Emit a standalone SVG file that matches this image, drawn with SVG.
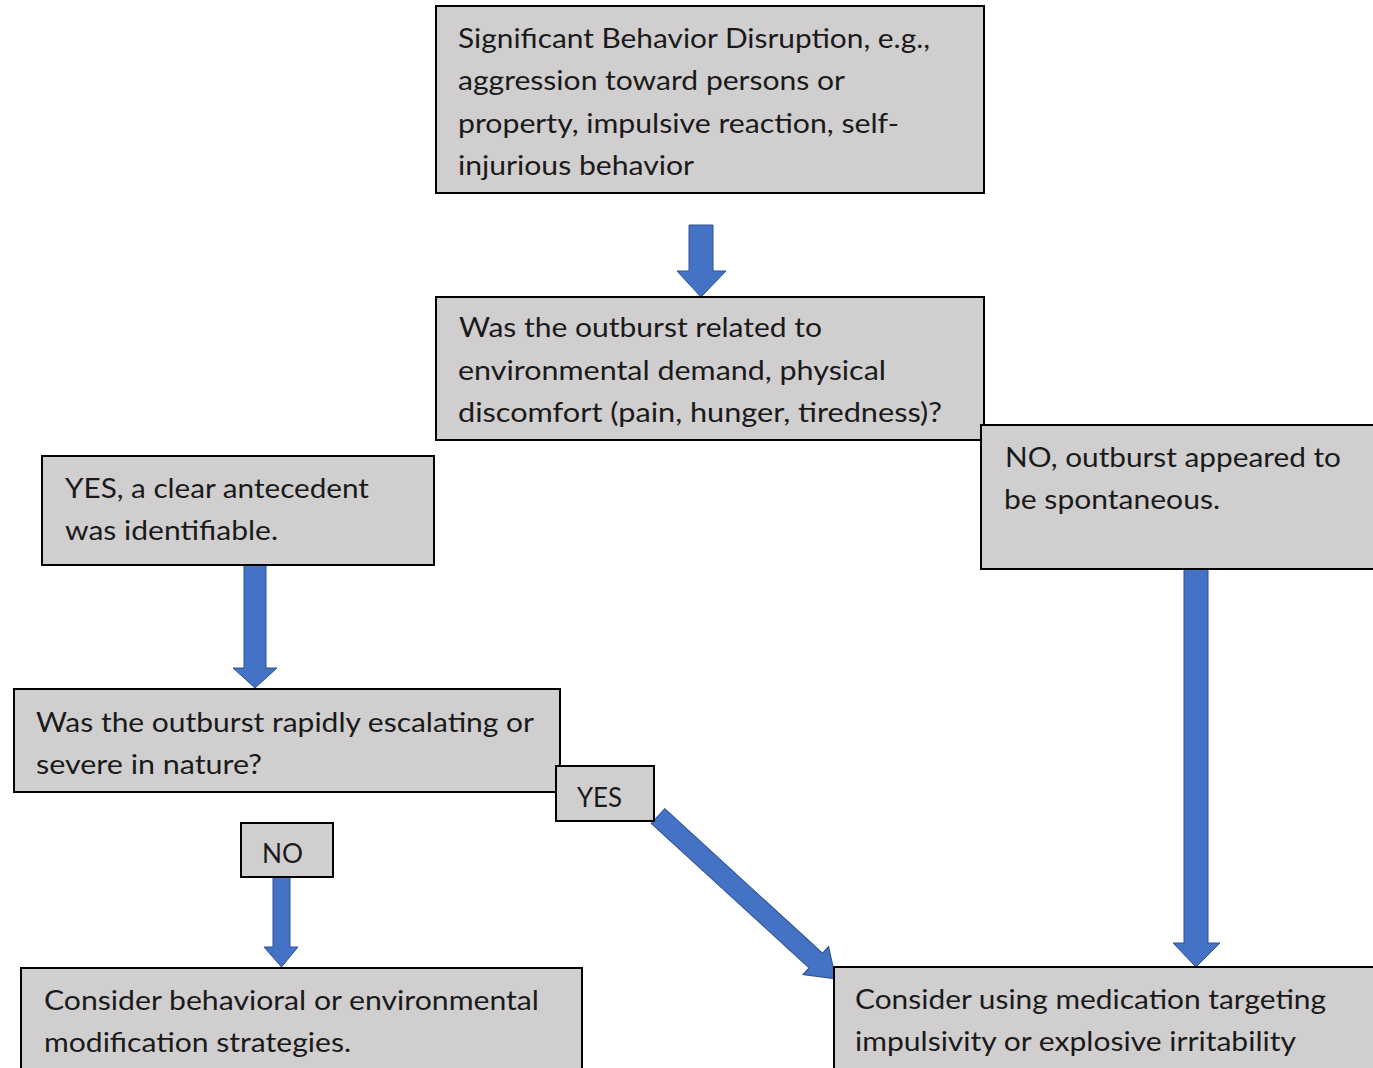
<svg xmlns="http://www.w3.org/2000/svg" width="1373" height="1068" viewBox="0 0 1373 1068">
<style>
.box{fill:#d0cece;stroke:#000;stroke-width:2}
.t{font-family:Lato,"Open Sans","Liberation Sans",sans-serif;font-size:27px;fill:#1a1a1a}
.arr{fill:#4472c4;stroke:#2f528f;stroke-width:1}
</style>
<rect width="1373" height="1068" fill="#fff"/>
<g id="connectors">
<polygon class="arr" points="689,225 713,225 713,271 726,271 701,297 677,271 689,271"/>
<polygon class="arr" points="244,565 266,565 266,668 277,668 255,688 233,668 244,668"/>
<polygon class="arr" points="1184,569 1208,569 1208,943 1220,943 1196,967 1173,943 1184,943"/>
<polygon class="arr" points="273,877 290,877 290,947 298,947 281.5,967 264,947 273,947"/>
<polygon class="arr" transform="translate(658,816) rotate(42.5)" points="0,-10 214,-10 214,-19 241,0 214,19 214,10 0,10"/>
</g>
<g id="n1">
<rect class="box" x="436" y="6" width="548" height="187"/>
<text class="t" x="458" y="48" textLength="472" lengthAdjust="spacingAndGlyphs">Significant Behavior Disruption, e.g.,</text>
<text class="t" x="458" y="90" textLength="387" lengthAdjust="spacingAndGlyphs">aggression toward persons or</text>
<text class="t" x="458" y="133" textLength="441" lengthAdjust="spacingAndGlyphs">property, impulsive reaction, self-</text>
<text class="t" x="458" y="175" textLength="236" lengthAdjust="spacingAndGlyphs">injurious behavior</text>
</g>
<g id="n2">
<rect class="box" x="436" y="297" width="548" height="143"/>
<text class="t" x="459" y="337" textLength="363" lengthAdjust="spacingAndGlyphs">Was the outburst related to</text>
<text class="t" x="458" y="380" textLength="428" lengthAdjust="spacingAndGlyphs">environmental demand, physical</text>
<text class="t" x="458" y="422" textLength="484" lengthAdjust="spacingAndGlyphs">discomfort (pain, hunger, tiredness)?</text>
</g>
<g id="n3">
<rect class="box" x="981" y="425" width="400" height="144"/>
<text class="t" x="1005" y="467" textLength="336" lengthAdjust="spacingAndGlyphs">NO, outburst appeared to</text>
<text class="t" x="1004" y="509" textLength="216" lengthAdjust="spacingAndGlyphs">be spontaneous.</text>
</g>
<g id="n4">
<rect class="box" x="42" y="456" width="392" height="109"/>
<text class="t" x="65" y="498" textLength="304" lengthAdjust="spacingAndGlyphs">YES, a clear antecedent</text>
<text class="t" x="65" y="540" textLength="213" lengthAdjust="spacingAndGlyphs">was identifiable.</text>
</g>
<g id="n5">
<rect class="box" x="14" y="689" width="546" height="103"/>
<text class="t" x="36" y="732" textLength="498" lengthAdjust="spacingAndGlyphs">Was the outburst rapidly escalating or</text>
<text class="t" x="36" y="774" textLength="226" lengthAdjust="spacingAndGlyphs">severe in nature?</text>
</g>
<g id="yes">
<rect class="box" x="556" y="766" width="98" height="55"/>
<text class="t" x="577" y="807" textLength="45" lengthAdjust="spacingAndGlyphs">YES</text>
</g>
<g id="no">
<rect class="box" x="241" y="823" width="92" height="54"/>
<text class="t" x="262" y="863" textLength="41" lengthAdjust="spacingAndGlyphs">NO</text>
</g>
<g id="n6">
<rect class="box" x="21" y="968" width="561" height="110"/>
<text class="t" x="44" y="1010" textLength="495" lengthAdjust="spacingAndGlyphs">Consider behavioral or environmental</text>
<text class="t" x="44" y="1052" textLength="307" lengthAdjust="spacingAndGlyphs">modification strategies.</text>
</g>
<g id="n7">
<rect class="box" x="834" y="967" width="550" height="110"/>
<text class="t" x="855" y="1009" textLength="471" lengthAdjust="spacingAndGlyphs">Consider using medication targeting</text>
<text class="t" x="855" y="1051" textLength="441" lengthAdjust="spacingAndGlyphs">impulsivity or explosive irritability</text>
</g>
</svg>
